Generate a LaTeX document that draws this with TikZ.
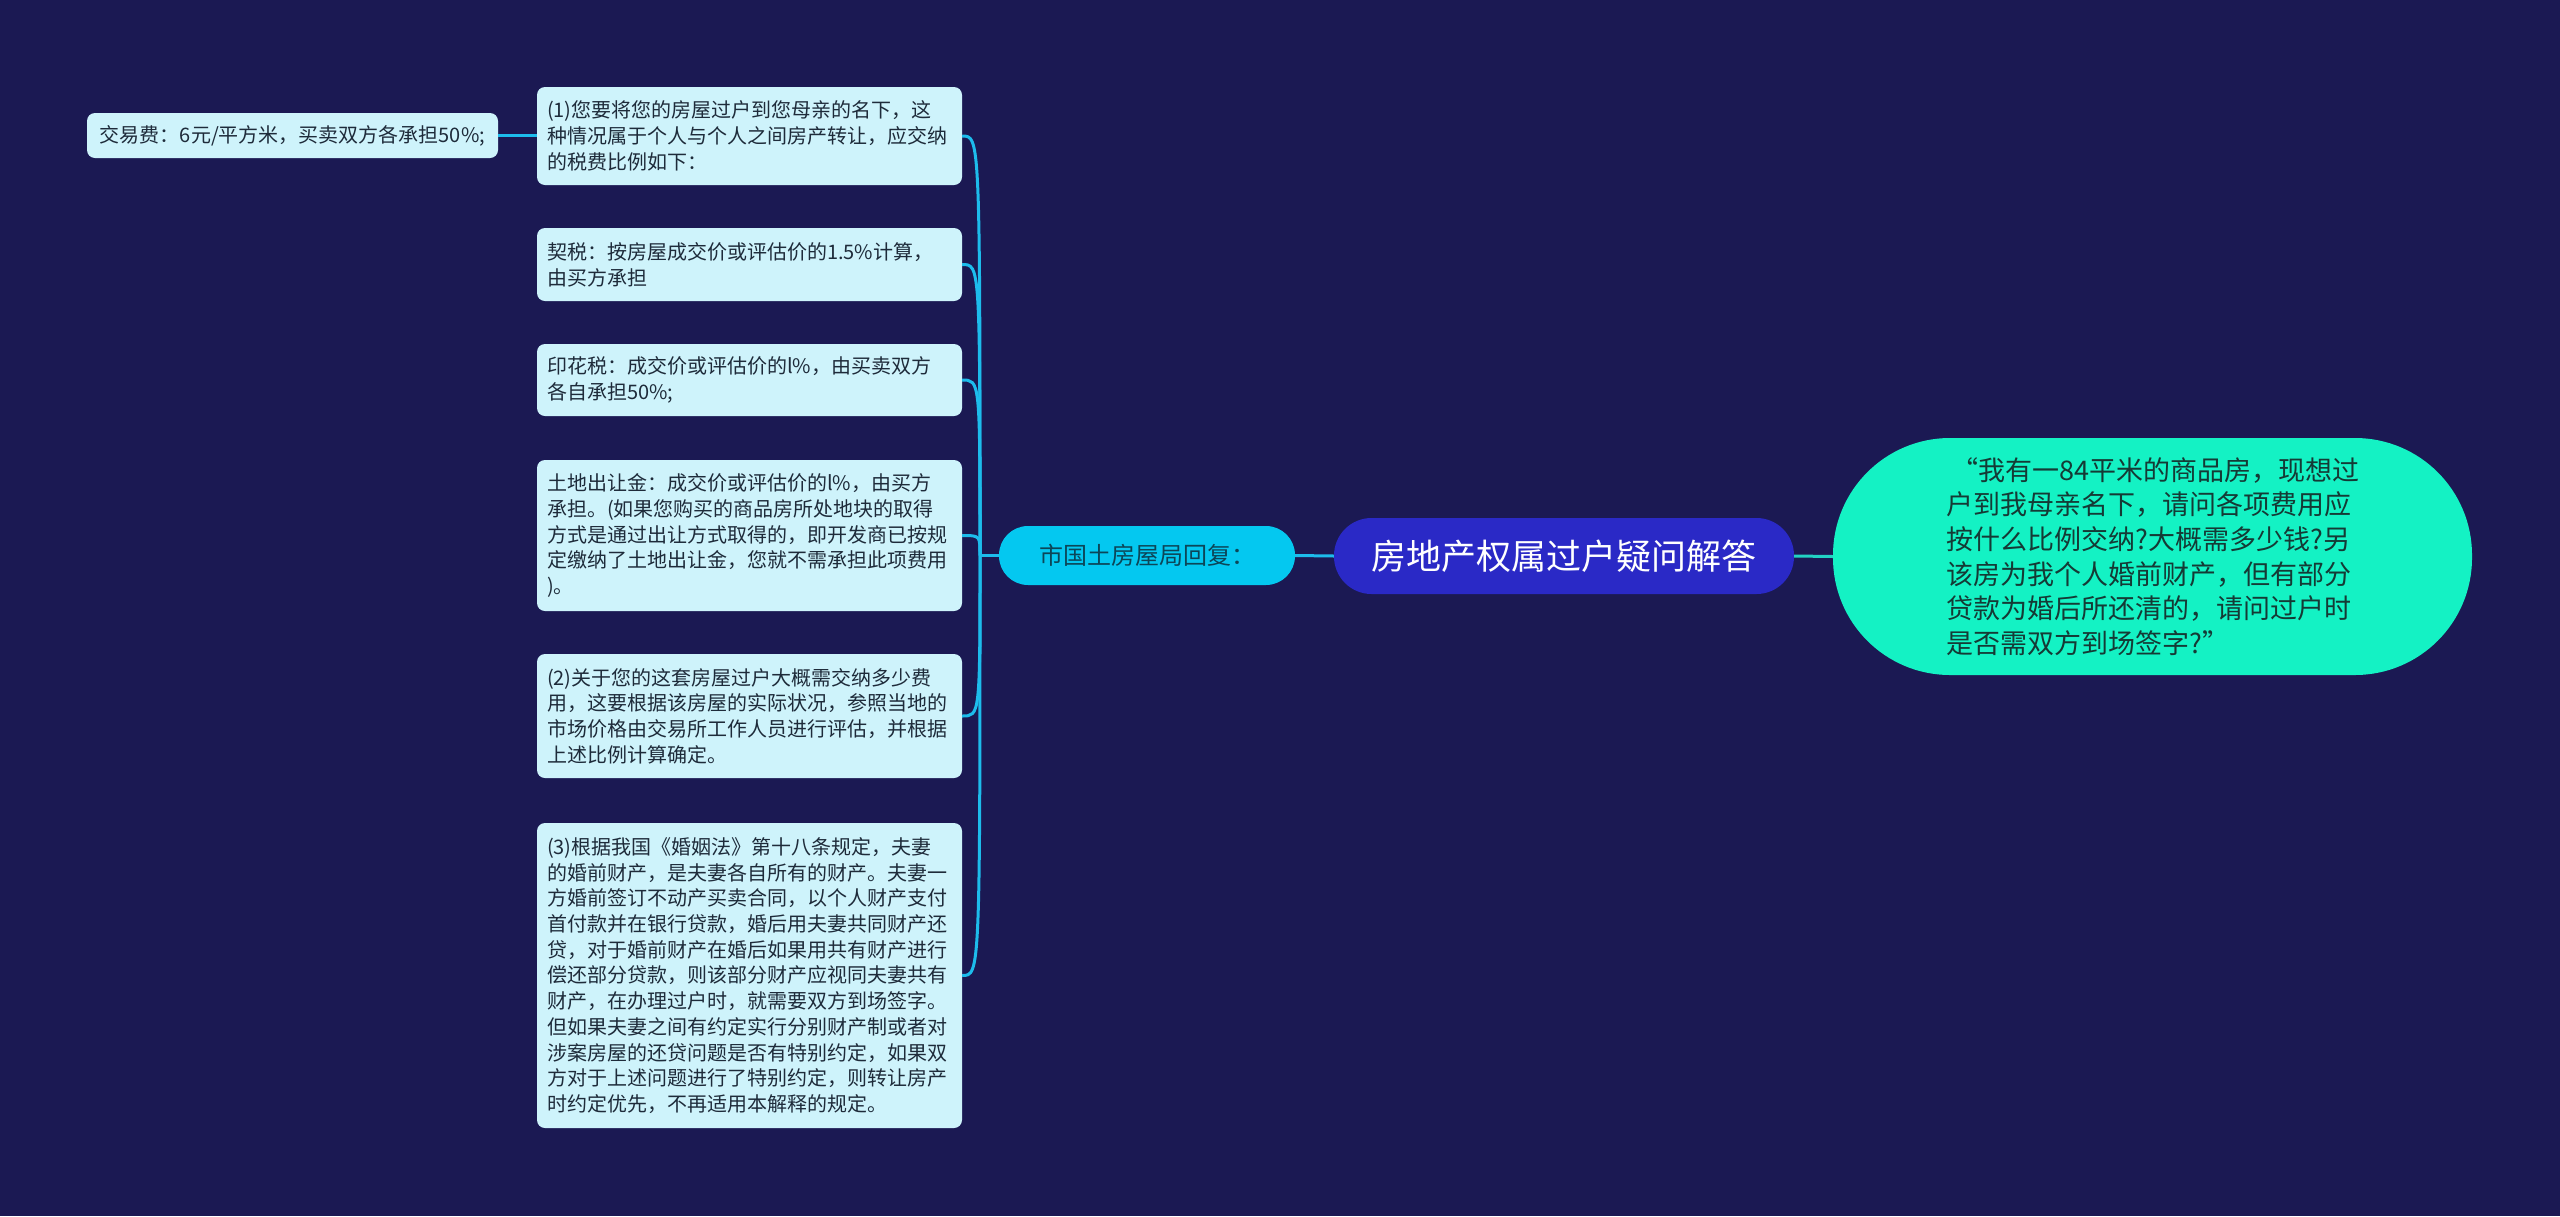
\documentclass[tikz,border=0pt]{standalone}
\usepackage{fontspec}
\setmainfont{Noto Sans CJK SC}
\definecolor{bgc}{HTML}{1B1953}
\definecolor{leaffill}{HTML}{CEF3FB}
\definecolor{leaftext}{HTML}{1E2B3A}
\definecolor{subfill}{HTML}{04C8F0}
\definecolor{subtext}{HTML}{0C4658}
\definecolor{rootfill}{HTML}{2A29C6}
\definecolor{qfill}{HTML}{14F2C4}
\definecolor{qtext}{HTML}{153A35}
\definecolor{connl}{HTML}{1DBCEC}
\definecolor{connr}{HTML}{22D2C4}
\begin{document}
\begin{tikzpicture}[x=1pt,y=-1pt,
  leaf/.style={fill=leaffill, rounded corners=8pt, text=leaftext, inner xsep=10pt, inner ysep=0pt,
    text width=405pt, align=left, font=\fontsize{20}{25.7}\selectfont},
  feebox/.style={fill=leaffill, rounded corners=8pt, text=leaftext, inner sep=0pt,
    minimum width=411pt, minimum height=45pt, align=center, font=\fontsize{20}{25.7}\selectfont},
  subnode/.style={fill=subfill, rounded corners=29pt, text=subtext, inner sep=0pt,
    minimum width=296pt, minimum height=59pt, font=\fontsize{24}{29}\selectfont},
  rootnode/.style={fill=rootfill, rounded corners=37.5pt, text=white, inner sep=0pt,
    minimum width=460pt, minimum height=76pt, font=\fontsize{35}{42}\selectfont},
  qnode/.style={fill=qfill, rounded corners=117pt, text=qtext, inner sep=0pt,
    minimum width=639pt, minimum height=237pt, text width=412pt, align=left,
    font=\fontsize{27}{34.7}\selectfont},
  connL/.style={draw=connl, line width=3pt},
  connR/.style={draw=connr, line width=3pt}
]
\useasboundingbox[fill=bgc] (0,0) rectangle (2560,1216);

% central nodes
\node[rootnode] (root) at (1564,556) {房地产权属过户疑问解答};
\node[subnode] (sj) at (1147,555.5) {市国土房屋局回复：};
\node[qnode] (q) at (2152.5,556.5) {\hspace*{5pt}“我有一84平米的商品房，现想过\\户到我母亲名下，请问各项费用应\\按什么比例交纳?大概需多少钱?另\\该房为我个人婚前财产，但有部分\\贷款为婚后所还清的，请问过户时\\是否需双方到场签字?”};

% leaves
\node[leaf, minimum height=98pt] (b1) at (749.5,136) {(1)您要将您的房屋过户到您母亲的名下，这\\种情况属于个人与个人之间房产转让，应交纳\\的税费比例如下：};
\node[leaf, minimum height=73pt] (b2) at (749.5,264.5) {契税：按房屋成交价或评估价的1.5\%计算，\\由买方承担};
\node[leaf, minimum height=72pt] (b3) at (749.5,380) {印花税：成交价或评估价的l\%，由买卖双方\\各自承担50\%;};
\node[leaf, minimum height=151pt] (b4) at (749.5,535.5) {土地出让金：成交价或评估价的l\%，由买方\\承担。(如果您购买的商品房所处地块的取得\\方式是通过出让方式取得的，即开发商已按规\\定缴纳了土地出让金，您就不需承担此项费用\\)。};
\node[leaf, minimum height=124pt] (b5) at (749.5,716) {(2)关于您的这套房屋过户大概需交纳多少费\\用，这要根据该房屋的实际状况，参照当地的\\市场价格由交易所工作人员进行评估，并根据\\上述比例计算确定。};
\node[leaf, minimum height=305pt] (b6) at (749.5,975.5) {(3)根据我国《婚姻法》第十八条规定，夫妻\\的婚前财产，是夫妻各自所有的财产。夫妻一\\方婚前签订不动产买卖合同，以个人财产支付\\首付款并在银行贷款，婚后用夫妻共同财产还\\贷，对于婚前财产在婚后如果用共有财产进行\\偿还部分贷款，则该部分财产应视同夫妻共有\\财产，在办理过户时，就需要双方到场签字。\\但如果夫妻之间有约定实行分别财产制或者对\\涉案房屋的还贷问题是否有特别约定，如果双\\方对于上述问题进行了特别约定，则转让房产\\时约定优先，不再适用本解释的规定。};

\node[feebox] (fee) at (292.5,135.5) {交易费：6元/平方米，买卖双方各承担50\%;};

% connectors
\coordinate (J) at (980,555.5);
\draw[connL] (root.west) -- (sj.east);
\draw[connR] (root.east) -- (q.west);
\draw[connL] (sj.west) -- (J);
\foreach \b in {b1,b2,b3,b4,b5,b6}{
  \draw[connL] (J) .. controls (J |- \b.east) .. (\b.east);
}
\draw[connL] (fee.east) -- (b1.west |- fee.east);
\end{tikzpicture}
\end{document}
